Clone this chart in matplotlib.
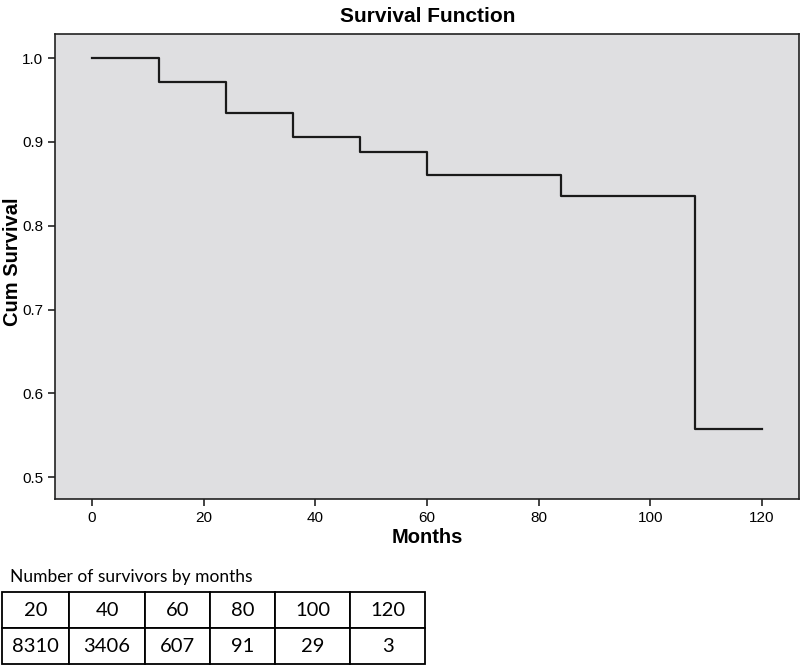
import matplotlib
matplotlib.use("Agg")
import matplotlib.pyplot as plt

# =========================
# DATA
# =========================

months = [0, 12, 24, 36, 48, 60, 84, 108, 120]
cum_survival = [1.0, 0.971, 0.934, 0.906, 0.888, 0.860, 0.836, 0.558, 0.558]

table_months = ["20", "40", "60", "80", "100", "120"]
table_survivors = ["8310", "3406", "607", "91", "29", "3"]

# =========================
# PLOT
# =========================

plt.rcParams['font.family'] = ['Liberation Sans', 'DejaVu Sans']
table_font = ['Lato', 'DejaVu Sans']

fig = plt.figure(figsize=(8, 6.65), dpi=100)
ax = fig.add_axes([0.069, 0.2496, 0.93, 0.699])
ax.set_facecolor("#dfdfe1")

ax.step(months, cum_survival, where='post', color="#1a1a1a", linewidth=1.6)

ax.set_xlim(-6.6, 126.7)
ax.set_ylim(0.474, 1.0286)
ax.set_xticks([0, 20, 40, 60, 80, 100, 120])
ax.set_yticks([0.5, 0.6, 0.7, 0.8, 0.9, 1.0])
ax.set_yticklabels(["0.5", "0.6", "0.7", "0.8", "0.9", "1.0"])
ax.tick_params(labelsize=11, length=5, width=1.2, color="#222222")

for s in ax.spines.values():
    s.set_linewidth(1.2)
    s.set_color("#222222")

ax.set_title("Survival Function", fontsize=15, fontweight='bold', pad=9)
ax.set_xlabel("Months", fontsize=14.5, fontweight='bold', labelpad=2)
ax.set_ylabel("Cum Survival", fontsize=14.5, fontweight='bold')
ax.yaxis.set_label_coords(-0.044, 0.51)

# =========================
# TABLE
# =========================

fig.text(0.0125, 0.132, "Number of survivors by months", fontsize=12.5,
         family=table_font, va='center', ha='left')

tax = fig.add_axes([0.0025, 0.0015, 0.529, 0.108])
tax.axis('off')
widths = [67, 76, 65, 65, 75, 75]
tot = sum(widths)
tbl = tax.table(cellText=[table_months, table_survivors],
                colWidths=[w / tot for w in widths],
                cellLoc='center', bbox=[0, 0, 1, 1])
tbl.auto_set_font_size(False)
for cell in tbl.get_celld().values():
    cell.set_linewidth(1.3)
    cell.get_text().set_fontsize(14.5)
    cell.get_text().set_family(table_font)

fig.savefig("out.png", dpi=100)
